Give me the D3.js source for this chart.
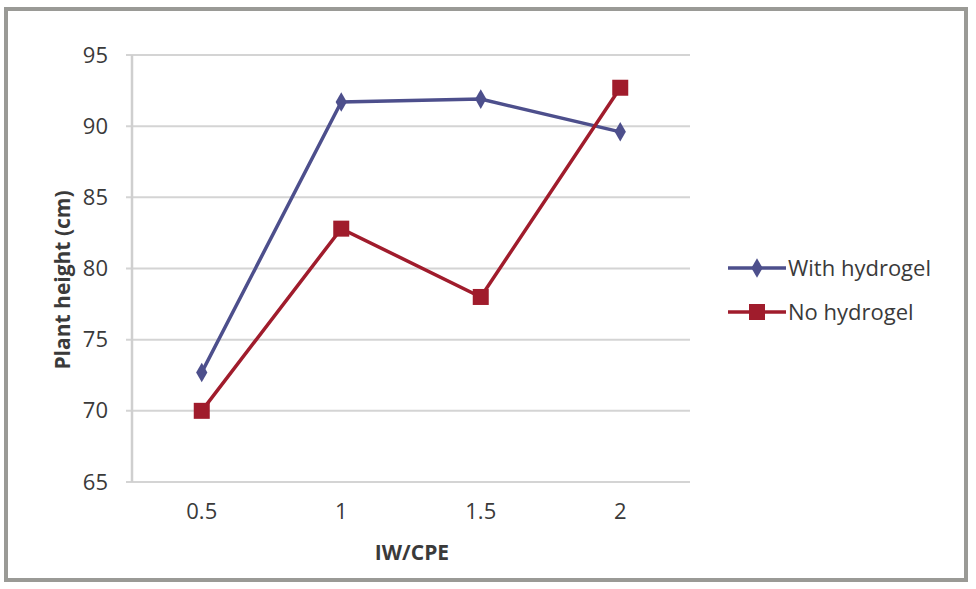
<!DOCTYPE html>
<html>
<head>
<meta charset="utf-8">
<script src="https://cdn.jsdelivr.net/npm/d3@7"></script>
<style>
  body { margin: 0; background: #fff; }
  text { font-family: "Open Sans", "Liberation Sans", sans-serif; fill: #3a3a3a; }
</style>
</head>
<body>
<svg id="chart" width="976" height="589"></svg>
<script>
const categories = ['0.5', '1', '1.5', '2'];
const withHydrogel = [72.7, 91.7, 91.9, 89.6];
const noHydrogel = [70.0, 82.8, 78.0, 92.7];
const yTicks = [65, 70, 75, 80, 85, 90, 95];
const seriesNames = ['With hydrogel', 'No hydrogel'];

const svg = d3.select('#chart');

// outer frame
svg.append('rect')
  .attr('x', 6).attr('y', 9).attr('width', 960).attr('height', 571)
  .attr('fill', '#fff').attr('stroke', '#9a9a96').attr('stroke-width', 4);

const plotLeft = 132, plotRight = 690, plotTop = 55, plotBottom = 482;

const x = d3.scaleBand().domain(categories).range([plotLeft, plotRight]);
const y = d3.scaleLinear().domain([65, 95]).range([plotBottom, plotTop]);

// gridlines
svg.append('g')
  .selectAll('line')
  .data(yTicks)
  .join('line')
  .attr('x1', plotLeft - 6).attr('x2', plotRight)
  .attr('y1', d => y(d)).attr('y2', d => y(d))
  .attr('stroke', '#d4d4d4').attr('stroke-width', 2);

// axis line
svg.append('line')
  .attr('x1', plotLeft).attr('x2', plotLeft).attr('y1', plotTop).attr('y2', plotBottom)
  .attr('stroke', '#cfcfcf').attr('stroke-width', 2.5);

// y tick labels
const yAxis = svg.append('g')
  .attr('transform', `translate(${plotLeft - 24},0)`)
  .call(d3.axisLeft(y).tickValues(yTicks).tickSize(0).tickPadding(0));
yAxis.select('.domain').remove();
yAxis.selectAll('text')
  .attr('font-size', 22).attr('fill', '#3a3a3a')
  .style('font-family', '"Open Sans", sans-serif');

// x tick labels
const xAxis = svg.append('g')
  .attr('transform', `translate(0,${plotBottom + 21})`)
  .call(d3.axisBottom(x).tickSize(0).tickPadding(0));
xAxis.select('.domain').remove();
xAxis.selectAll('text')
  .attr('font-size', 22).attr('fill', '#3a3a3a')
  .style('font-family', '"Open Sans", sans-serif');

// axis titles
svg.append('text')
  .attr('x', 412).attr('y', 560)
  .attr('text-anchor', 'middle')
  .attr('font-size', 21).attr('font-weight', 'bold')
  .text('IW/CPE');

svg.append('text')
  .attr('transform', 'translate(70,280) rotate(-90)')
  .attr('text-anchor', 'middle')
  .attr('font-size', 21).attr('font-weight', 'bold')
  .text('Plant height (cm)');

const cx = d => x(d) + x.bandwidth() / 2;
const line = d3.line().x((d, i) => cx(categories[i])).y(d => y(d));

const blue = '#4d4f8c', red = '#a01c2c';

svg.append('path').datum(withHydrogel)
  .attr('d', line).attr('fill', 'none').attr('stroke', blue).attr('stroke-width', 3.5);
svg.append('path').datum(noHydrogel)
  .attr('d', line).attr('fill', 'none').attr('stroke', red).attr('stroke-width', 3.5);

const diamond = d3.symbol().type(d3.symbolDiamond).size(110);

svg.append('g').selectAll('rect')
  .data(noHydrogel)
  .join('rect')
  .attr('x', (d, i) => cx(categories[i]) - 8)
  .attr('y', d => y(d) - 8)
  .attr('width', 16).attr('height', 16)
  .attr('fill', red);

svg.append('g').selectAll('path')
  .data(withHydrogel)
  .join('path')
  .attr('d', diamond)
  .attr('transform', (d, i) => `translate(${cx(categories[i])},${y(d)})`)
  .attr('fill', blue);

// legend
const legend = svg.append('g').attr('transform', 'translate(728,268)');
legend.append('line').attr('x1', 0).attr('x2', 58).attr('y1', 0).attr('y2', 0)
  .attr('stroke', blue).attr('stroke-width', 3.5);
legend.append('path').attr('d', diamond).attr('transform', 'translate(29,0)').attr('fill', blue);
legend.append('text').attr('x', 60).attr('y', 8).attr('font-size', 22).text(seriesNames[0]);

legend.append('line').attr('x1', 0).attr('x2', 58).attr('y1', 44).attr('y2', 44)
  .attr('stroke', red).attr('stroke-width', 3.5);
legend.append('rect').attr('x', 21).attr('y', 36).attr('width', 16).attr('height', 16).attr('fill', red);
legend.append('text').attr('x', 60).attr('y', 52).attr('font-size', 22).text(seriesNames[1]);
</script>
</body>
</html>
